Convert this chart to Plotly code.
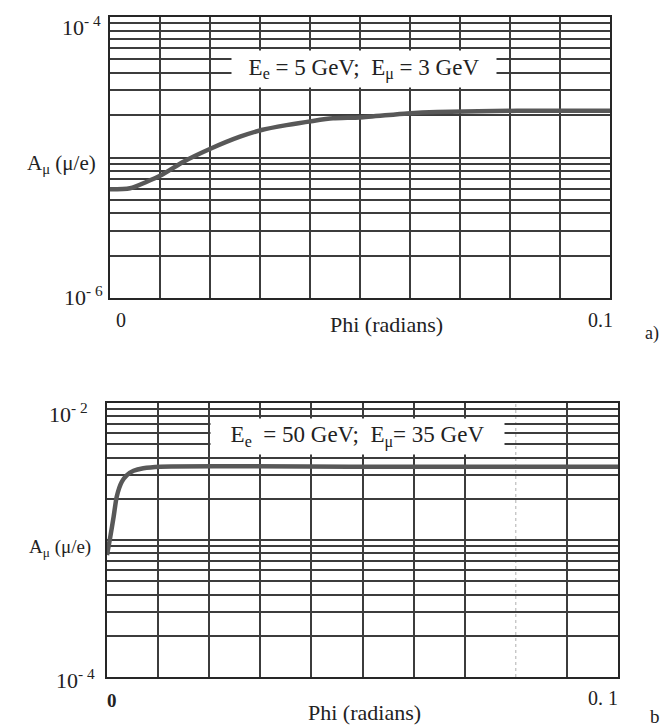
import plotly.graph_objects as go

# ---------------- data ----------------
phi_a = [0.0, 0.004, 0.0103, 0.0147, 0.0203, 0.026, 0.0303, 0.0353, 0.0406,
         0.0446, 0.05, 0.0594, 0.0654, 0.0814, 0.1]
amu_a = [5.94e-6, 6.04e-6, 7.5e-6, 9.33e-6, 1.163e-5, 1.406e-5, 1.57e-5, 1.70e-5,
         1.82e-5, 1.90e-5, 1.93e-5, 2.06e-5, 2.11e-5, 2.15e-5, 2.15e-5]

phi_b = [0.0, 0.00065, 0.0013, 0.0019, 0.0029, 0.0039, 0.0052, 0.0071, 0.0104,
         0.05, 0.1]
amu_b = [7.77e-4, 1.057e-3, 1.48e-3, 2.07e-3, 2.66e-3, 2.98e-3, 3.2e-3, 3.34e-3,
         3.43e-3, 3.43e-3, 3.43e-3]

x_grid = [0.0, 0.01, 0.02, 0.03, 0.04, 0.05, 0.06, 0.07, 0.08, 0.09, 0.1]
x_grid_b = [0.0, 0.01, 0.02, 0.03, 0.04, 0.05, 0.06, 0.07, 0.09, 0.1]
x_faint_b = 0.08
y_grid_a = [1e-6, 2e-6, 3e-6, 4e-6, 5e-6, 6e-6, 7e-6, 8e-6, 9e-6,
            1e-5, 2e-5, 3e-5, 4e-5, 5e-5, 6e-5, 7e-5, 8e-5, 9e-5, 1e-4]
y_grid_b = [1e-4, 2e-4, 3e-4, 4e-4, 5e-4, 6e-4, 7e-4, 8e-4, 9e-4,
            1e-3, 2e-3, 3e-3, 4e-3, 5e-3, 6e-3, 7e-3, 8e-3, 9e-3, 1e-2]

label_a = "E<sub>e</sub> = 5 GeV;  E<sub>μ</sub> = 3 GeV"
label_b = "E<sub>e</sub>  = 50 GeV;  E<sub>μ</sub>= 35 GeV"
ylab = "A<sub>μ</sub> (μ/e)"
xlab = "Phi (radians)"

W, H = 660, 728
def px(x): return x / W
def py(y): return 1 - y / H

FONT = "Liberation Serif, Times New Roman, serif"
GRID = "#3c3c3c"
CURVE = "#585858"

fig = go.Figure()
fig.add_trace(go.Scatter(x=phi_a, y=amu_a, mode="lines", xaxis="x", yaxis="y",
                         line=dict(color=CURVE, width=4.5, shape="spline", smoothing=0.6),
                         showlegend=False, hoverinfo="skip"))
fig.add_trace(go.Scatter(x=phi_b, y=amu_b, mode="lines", xaxis="x2", yaxis="y2",
                         line=dict(color=CURVE, width=4.5, shape="spline", smoothing=0.6),
                         showlegend=False, hoverinfo="skip"))

common_x = dict(range=[0, 0.1], showticklabels=False, ticks="", showgrid=True,
                gridcolor=GRID, gridwidth=1.5, showline=True, linecolor="#262626",
                linewidth=2, mirror=True, zeroline=False, fixedrange=True)
common_y = dict(type="log", showticklabels=False, ticks="", showgrid=True,
                gridcolor=GRID, gridwidth=1.5, showline=True, linecolor="#262626",
                linewidth=2, mirror=True, zeroline=False, fixedrange=True)

fig.update_layout(
    width=W, height=H, margin=dict(l=0, r=0, t=0, b=0),
    paper_bgcolor="white", plot_bgcolor="white",
    font=dict(family=FONT, color="#222"),
    xaxis=dict(common_x, domain=[px(110), px(610)], anchor="y", tickvals=x_grid),
    yaxis=dict(common_y, domain=[py(298), py(17)], anchor="x", range=[-6, -4],
               tickvals=y_grid_a),
    xaxis2=dict(common_x, domain=[px(107), px(618)], anchor="y2", tickvals=x_grid_b),
    yaxis2=dict(common_y, domain=[py(677), py(403)], anchor="x2", range=[-4, -2],
                tickvals=y_grid_b),
)

# faint dotted grid line in lower panel
fig.add_shape(type="line", xref="x2", yref="y2 domain", x0=x_faint_b, x1=x_faint_b,
              y0=0, y1=1, line=dict(color="#b0b0b0", width=1, dash="dot"), layer="below")

ann = []
def txt(t, x, y, size, xa="center", ya="middle", **kw):
    ann.append(dict(text=t, x=px(x), y=py(y), xref="paper", yref="paper",
                    showarrow=False, xanchor=xa, yanchor=ya,
                    font=dict(family=FONT, size=size, color="#222"), **kw))

# panel a labels
txt(label_a, 364, 69, 23, bgcolor="white", width=262, height=34)
txt("10<sup>- 4</sup>", 103, 26, 22, xa="right")
txt("10<sup>- 6</sup>", 105, 296, 22, xa="right")
txt(ylab, 62, 164, 21)
txt("0", 121, 320, 20)
txt(xlab, 387, 324, 22)
txt("0.1", 600, 320, 20)
txt("a)", 643, 334, 18, xa="left")

# panel b labels
txt(label_b, 357, 436, 23, bgcolor="white", width=291, height=33)
txt("10<sup>- 2</sup>", 90, 413, 22, xa="right")
txt("10<sup>- 4</sup>", 97, 679, 22, xa="right")
txt(ylab, 60, 548, 19)
txt("<b>0</b>", 112, 700, 19)
txt("0. 1", 603, 698, 20)
txt(xlab, 365, 712, 22)
txt("b", 648, 716, 19, xa="left")

fig.update_layout(annotations=ann)
fig.write_html("out.html")
